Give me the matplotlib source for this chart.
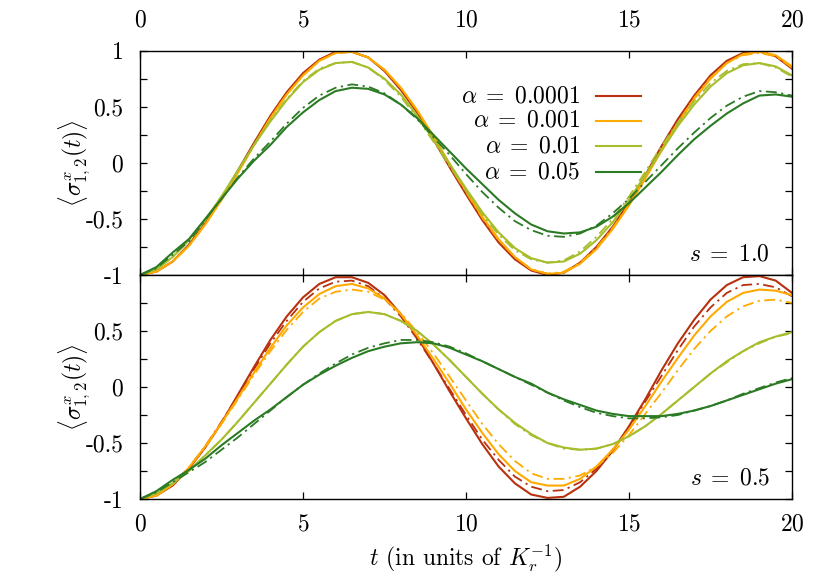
#two panel plot, <sigma^x_12(t)> for s = 1.0 and s = 0.5
import numpy as np
import matplotlib
matplotlib.use('Agg')
import matplotlib.pyplot as plt
from matplotlib.lines import Line2D

plt.rcParams['font.family'] = 'cmr10'
plt.rcParams['mathtext.fontset'] = 'cm'
plt.rcParams['axes.unicode_minus'] = False
plt.rcParams['axes.formatter.use_mathtext'] = True

#time axis, sampled every 0.5
t = np.linspace(0, 20, 41)

#s = 1.0 panel, solid and dash-dot per alpha
top_red = [-1.00,-0.97,-0.88,-0.73,-0.54,-0.32,-0.07,0.18,0.42,0.63,0.80,0.92,0.99,0.99,0.94,0.82,0.65,0.45,0.21,-0.04,
           -0.28,-0.51,-0.71,-0.86,-0.96,-1.00,-0.98,-0.89,-0.75,-0.57,-0.35,-0.11,0.15,0.39,0.60,0.78,0.91,0.98,1.00,0.95,0.84]
top_red_dd = [-1.00,-0.97,-0.88,-0.73,-0.54,-0.32,-0.08,0.17,0.41,0.62,0.79,0.92,0.98,0.99,0.94,0.82,0.66,0.46,0.22,-0.03,
              -0.27,-0.50,-0.70,-0.85,-0.95,-0.99,-0.98,-0.89,-0.76,-0.58,-0.36,-0.12,0.13,0.37,0.59,0.77,0.90,0.97,0.99,0.95,0.85]
top_orange = [-1.00,-0.97,-0.88,-0.74,-0.55,-0.33,-0.09,0.16,0.40,0.61,0.78,0.91,0.98,0.99,0.94,0.83,0.67,0.47,0.24,-0.01,
              -0.25,-0.48,-0.68,-0.84,-0.95,-0.99,-0.98,-0.90,-0.77,-0.59,-0.38,-0.14,0.11,0.35,0.57,0.75,0.89,0.97,0.99,0.96,0.86]
top_orange_dd = [-1.00,-0.97,-0.88,-0.74,-0.55,-0.33,-0.09,0.16,0.40,0.61,0.78,0.91,0.98,0.99,0.94,0.83,0.67,0.47,0.23,-0.02,
                 -0.26,-0.49,-0.69,-0.84,-0.95,-0.99,-0.97,-0.89,-0.76,-0.58,-0.37,-0.13,0.12,0.36,0.58,0.76,0.89,0.96,0.98,0.95,0.85]
top_yellow = [-1.00,-0.95,-0.84,-0.69,-0.51,-0.30,-0.07,0.16,0.37,0.56,0.72,0.83,0.89,0.90,0.85,0.75,0.61,0.42,0.21,-0.01,
              -0.23,-0.44,-0.62,-0.76,-0.85,-0.89,-0.88,-0.81,-0.69,-0.53,-0.33,-0.11,0.11,0.33,0.52,0.68,0.80,0.87,0.89,0.86,0.78]
top_yellow_dd = [-1.00,-0.95,-0.84,-0.69,-0.51,-0.30,-0.07,0.16,0.38,0.57,0.73,0.84,0.89,0.90,0.85,0.74,0.59,0.40,0.19,-0.03,
                 -0.25,-0.46,-0.64,-0.78,-0.86,-0.89,-0.87,-0.79,-0.66,-0.50,-0.30,-0.08,0.15,0.36,0.55,0.71,0.82,0.88,0.89,0.85,0.77]
top_green = [-1.00,-0.93,-0.80,-0.68,-0.50,-0.32,-0.14,0.02,0.16,0.32,0.45,0.56,0.64,0.67,0.66,0.61,0.52,0.40,0.25,0.10,
             -0.05,-0.19,-0.33,-0.45,-0.55,-0.61,-0.63,-0.62,-0.57,-0.48,-0.36,-0.22,-0.08,0.07,0.21,0.33,0.44,0.53,0.60,0.61,0.59]
top_green_dd = [-1.00,-0.94,-0.82,-0.70,-0.51,-0.32,-0.13,0.04,0.19,0.35,0.49,0.60,0.67,0.70,0.68,0.62,0.52,0.39,0.23,0.07,
                -0.10,-0.26,-0.40,-0.52,-0.60,-0.65,-0.66,-0.63,-0.56,-0.45,-0.32,-0.17,-0.02,0.13,0.27,0.40,0.51,0.59,0.64,0.63,0.60]

#s = 0.5 panel
bot_red = [-1.00,-0.97,-0.88,-0.73,-0.54,-0.32,-0.07,0.18,0.42,0.63,0.80,0.92,0.98,0.98,0.93,0.82,0.65,0.45,0.21,-0.04,
           -0.28,-0.51,-0.71,-0.86,-0.96,-0.99,-0.98,-0.89,-0.75,-0.57,-0.35,-0.11,0.15,0.39,0.60,0.78,0.91,0.98,0.99,0.95,0.84]
bot_red_dd = [-1.00,-0.97,-0.87,-0.72,-0.53,-0.31,-0.08,0.16,0.39,0.59,0.76,0.88,0.94,0.95,0.90,0.79,0.63,0.43,0.21,-0.02,
              -0.25,-0.47,-0.65,-0.80,-0.89,-0.93,-0.92,-0.85,-0.73,-0.56,-0.36,-0.13,0.10,0.33,0.54,0.71,0.84,0.91,0.92,0.89,0.81]
bot_orange = [-1.00,-0.97,-0.87,-0.72,-0.53,-0.32,-0.10,0.13,0.35,0.55,0.71,0.83,0.90,0.92,0.88,0.79,0.65,0.46,0.25,0.03,
              -0.20,-0.41,-0.60,-0.75,-0.85,-0.88,-0.88,-0.82,-0.71,-0.56,-0.38,-0.17,0.05,0.26,0.46,0.63,0.76,0.84,0.87,0.86,0.82]
bot_orange_dd = [-1.00,-0.97,-0.87,-0.72,-0.54,-0.33,-0.11,0.11,0.32,0.51,0.67,0.79,0.85,0.87,0.85,0.78,0.66,0.49,0.30,0.09,
                 -0.12,-0.33,-0.51,-0.66,-0.77,-0.82,-0.82,-0.79,-0.71,-0.59,-0.43,-0.24,-0.05,0.15,0.34,0.50,0.63,0.72,0.77,0.78,0.75]
bot_yellow = [-1.00,-0.95,-0.86,-0.75,-0.61,-0.47,-0.31,-0.14,0.03,0.20,0.36,0.49,0.59,0.65,0.67,0.65,0.59,0.50,0.38,0.24,
              0.09,-0.06,-0.20,-0.32,-0.42,-0.50,-0.54,-0.56,-0.55,-0.51,-0.44,-0.35,-0.24,-0.12,0.00,0.12,0.23,0.32,0.40,0.45,0.49]
bot_yellow_dd = [-1.00,-0.95,-0.86,-0.75,-0.61,-0.47,-0.31,-0.14,0.03,0.20,0.36,0.49,0.59,0.65,0.67,0.65,0.59,0.50,0.38,0.24,
                 0.09,-0.06,-0.20,-0.33,-0.43,-0.50,-0.55,-0.56,-0.55,-0.51,-0.44,-0.35,-0.24,-0.12,0.00,0.12,0.22,0.32,0.39,0.45,0.48]
bot_green = [-1.00,-0.93,-0.83,-0.74,-0.64,-0.52,-0.41,-0.30,-0.20,-0.09,0.02,0.11,0.19,0.26,0.32,0.36,0.39,0.40,0.39,0.35,
             0.29,0.23,0.16,0.09,0.03,-0.05,-0.11,-0.16,-0.21,-0.24,-0.26,-0.26,-0.26,-0.24,-0.21,-0.17,-0.12,-0.07,-0.02,0.03,0.07]
bot_green_dd = [-1.00,-0.94,-0.85,-0.76,-0.67,-0.56,-0.45,-0.33,-0.21,-0.09,0.02,0.12,0.21,0.29,0.35,0.39,0.42,0.42,0.40,0.36,
                0.30,0.23,0.16,0.09,0.02,-0.05,-0.12,-0.18,-0.23,-0.26,-0.28,-0.28,-0.27,-0.25,-0.21,-0.17,-0.12,-0.06,-0.01,0.04,0.08]

labels = [r'$\alpha \;=\; 0.0001$', r'$\alpha \;=\; 0.001$', r'$\alpha \;=\; 0.01$', r'$\alpha \;=\; 0.05$']
colors = ['#b8300e', '#ffaa00', '#a6bd2c', '#2b7a24']

top_solid = [top_red, top_orange, top_yellow, top_green]
top_dash = [top_red_dd, top_orange_dd, top_yellow_dd, top_green_dd]
bot_solid = [bot_red, bot_orange, bot_yellow, bot_green]
bot_dash = [bot_red_dd, bot_orange_dd, bot_yellow_dd, bot_green_dd]

dashdot = (0, (6, 2.5, 1.2, 2.5))
fs = 17

fig = plt.figure(figsize=(8.3, 5.81), dpi=100)
ax1 = fig.add_axes([0.1687, 0.5267, 0.7855, 0.386])
ax2 = fig.add_axes([0.1687, 0.1411, 0.7855, 0.3856])

for ax, solid, dash in [(ax1, top_solid, top_dash), (ax2, bot_solid, bot_dash)]:
    for i in range(4):
        ax.plot(t, solid[i], color=colors[i], lw=1.5, ls='-')
        ax.plot(t, dash[i], color=colors[i], lw=1.3, ls=dashdot)
    ax.set_xlim(0, 20)
    ax.set_ylim(-1, 1)
    ax.set_xticks([0, 5, 10, 15, 20])
    ax.set_yticks(np.arange(-1, 1.01, 0.25))
    ax.tick_params(direction='in', length=5, width=0.9, top=True, right=True, labelsize=fs)
    for sp in ax.spines.values():
        sp.set_linewidth(1.0)
    ax.set_ylabel(r'$\langle\sigma^x_{1,2}(t)\rangle$', fontsize=fs)
    ax.yaxis.set_label_coords(-0.072, 0.5)

#tick labels
ax1.set_yticklabels(['-1', '', '-0.5', '', '0', '', '0.5', '', '1'])
ax2.set_yticklabels(['-1', '', '-0.5', '', '0', '', '0.5', '', ''])
ax1.tick_params(axis='y', pad=12)
ax2.tick_params(axis='y', pad=12)
ax1.tick_params(axis='x', labelbottom=False, labeltop=True, pad=14)
ax2.tick_params(axis='x', pad=10)

ax2.set_xlabel(r'$t$ (in units of $K_r^{-1}$)', fontsize=fs)
ax2.xaxis.set_label_coords(0.5, -0.195)

#legend, gnuplot style: text right aligned, sample to the right
leg_y = [0.798, 0.687, 0.575, 0.459]
for i in range(4):
    ax1.text(0.675, leg_y[i], labels[i], transform=ax1.transAxes, ha='right', va='center', fontsize=fs)
    ax1.add_line(Line2D([0.699, 0.768], [leg_y[i], leg_y[i]], transform=ax1.transAxes, color=colors[i], lw=1.5))

ax1.text(0.966, 0.09, r'$s \;=\; 1.0$', transform=ax1.transAxes, ha='right', va='center', fontsize=fs)
ax2.text(0.966, 0.094, r'$s \;=\; 0.5$', transform=ax2.transAxes, ha='right', va='center', fontsize=fs)

plt.savefig('out.png', dpi=100)
